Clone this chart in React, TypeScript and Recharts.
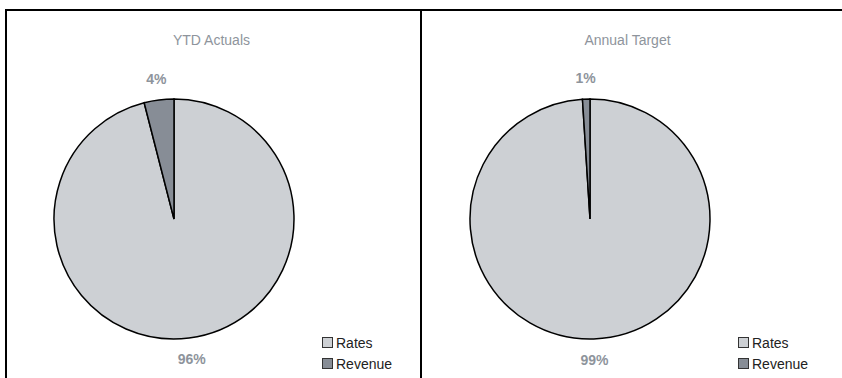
import { Cell, Legend, Pie, PieChart } from 'recharts';

const SERIES = ['Rates', 'Revenue'];
const YTD_ACTUALS = [96, 4];
const ANNUAL_TARGET = [99, 1];
const PANEL_TITLES = ['YTD Actuals', 'Annual Target'];

const COLORS = ['#cdd0d4', '#878d96'];
const TEXT_GREY = '#8e949c';
const FONT = '"Liberation Sans", Arial, sans-serif';
const RAD = Math.PI / 180;

const PANEL_W = 416;
const PANEL_H = 378;

function percentLabel(props: any) {
  const { cx, cy, midAngle, outerRadius, value } = props;
  const r = outerRadius + 21;
  const x = cx + r * Math.cos(-midAngle * RAD);
  const y = cy + r * Math.sin(-midAngle * RAD);
  return (
    <text
      x={x}
      y={y}
      textAnchor="middle"
      dominantBaseline="central"
      fill={TEXT_GREY}
      fontSize={14}
      fontWeight="bold"
      fontFamily={FONT}
    >
      {`${value}%`}
    </text>
  );
}

function LegendBox() {
  return (
    <div style={{ fontFamily: FONT, fontSize: 14, color: '#222' }}>
      {SERIES.map((name, i) => (
        <div key={name} style={{ display: 'flex', alignItems: 'center', height: 21 }}>
          <span
            style={{
              width: 9,
              height: 9,
              background: COLORS[i],
              border: '1px solid #333',
              marginRight: 3,
            }}
          />
          <span>{name}</span>
        </div>
      ))}
    </div>
  );
}

function PiePanel({ title, values, left }: { title: string; values: number[]; left: number }) {
  const data = SERIES.map((name, i) => ({ name, value: values[i] }));
  return (
    <div style={{ position: 'absolute', left, top: 0, width: PANEL_W, height: PANEL_H }}>
      <div
        style={{
          position: 'absolute',
          left: 0,
          top: 32,
          width: 413,
          textAlign: 'center',
          fontFamily: FONT,
          fontSize: 14,
          color: TEXT_GREY,
          lineHeight: '16px',
        }}
      >
        {title}
      </div>
      <PieChart width={PANEL_W} height={PANEL_H} margin={{ top: 0, right: 0, bottom: 0, left: 0 }}>
        <Pie
          data={data}
          dataKey="value"
          nameKey="name"
          cx={169}
          cy={219}
          outerRadius={120}
          startAngle={90}
          endAngle={-270}
          stroke="#000"
          strokeWidth={1.5}
          label={percentLabel}
          labelLine={false}
          isAnimationActive={false}
        >
          {data.map((_, i) => (
            <Cell key={i} fill={COLORS[i]} />
          ))}
        </Pie>
        <Legend
          content={() => <LegendBox />}
          wrapperStyle={{ position: 'absolute', left: 317, top: 332, width: 100 }}
        />
      </PieChart>
    </div>
  );
}

export default function App() {
  return (
    <div
      style={{
        position: 'absolute',
        left: 0,
        top: 0,
        width: 842,
        height: 378,
        overflow: 'hidden',
        background: '#fff',
      }}
    >
      <div
        style={{
          position: 'absolute',
          left: 5,
          top: 9,
          width: 900,
          height: 500,
          borderTop: '2px solid #000',
          borderLeft: '2px solid #000',
        }}
      />
      <div style={{ position: 'absolute', left: 420, top: 9, width: 2, height: 500, background: '#000' }} />
      <PiePanel title={PANEL_TITLES[0]} values={YTD_ACTUALS} left={5} />
      <PiePanel title={PANEL_TITLES[1]} values={ANNUAL_TARGET} left={421} />
    </div>
  );
}
